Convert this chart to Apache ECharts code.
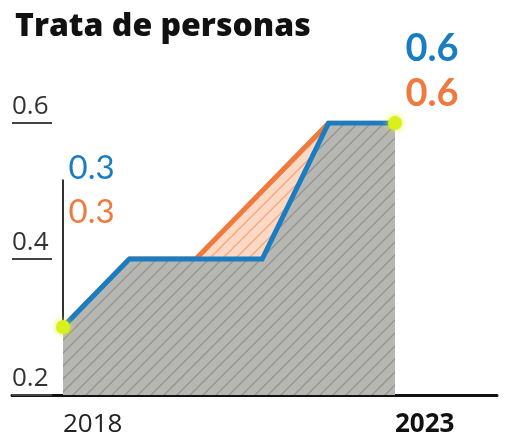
<!DOCTYPE html>
<html><head><meta charset="utf-8">
<script src="https://cdn.jsdelivr.net/npm/echarts@6/dist/echarts.min.js"></script>
<style>html,body{margin:0;padding:0;background:#fff}#c{width:506px;height:444px}</style>
</head><body><div id="c"></div>
<script>
const title = 'Trata de personas';
const years = [2018, 2019, 2020, 2021, 2022, 2023];
const blueValues = [0.3, 0.4, 0.4, 0.4, 0.6, 0.6];
const orangeValues = [0.3, 0.4, 0.4, 0.5, 0.6, 0.6];
const xTickLabels = [2018, 2023];
const boldTick = 2023;
const yTicks = [0.2, 0.4, 0.6];
const highlighted = [0, 5]; // indices of first and last points

function hatch(bg, line, size) {
  const c = document.createElement('canvas');
  c.width = size; c.height = size;
  const g = c.getContext('2d');
  g.fillStyle = bg; g.fillRect(0, 0, size, size);
  g.strokeStyle = line; g.lineWidth = 1.3;
  g.beginPath();
  for (let k = -1; k <= 1; k++) {
    g.moveTo(k * size - 1, size + 1);
    g.lineTo(k * size + size + 1, -1);
  }
  g.stroke();
  return c;
}
const grayPat = { image: hatch('#b6b6b2', '#939390', 13), repeat: 'repeat' };
const peachPat = { image: hatch('#fbd9c4', '#f2a77c', 13), repeat: 'repeat' };

const BLUE = '#1a7dc2', ORANGE = '#f07a3e', DOT = '#d8f01c';
const pair = vals => years.map((y, i) => [y, vals[i]]);
const fmt = p => p.value[1].toFixed(1);

const chart = echarts.init(document.getElementById('c'));
chart.setOption({
  animation: false,
  title: { text: title, left: 10, top: 6,
    textStyle: { fontFamily: 'Open Sans', fontWeight: 800, fontSize: 32, color: '#111' } },
  grid: { left: 12, right: 9, top: 123, bottom: 49 },
  xAxis: {
    type: 'value', min: 2017.232, max: 2024.536,
    axisLine: { show: true, lineStyle: { color: '#111', width: 3 } },
    axisTick: { show: false },
    splitLine: { show: false },
    axisLabel: {
      customValues: xTickLabels, align: 'left', margin: 17,
      fontFamily: 'Open Sans', fontSize: 26, color: '#222',
      formatter: v => (v === boldTick ? '{b|' + v + '}' : String(v)),
      rich: { b: { fontFamily: 'Open Sans', fontWeight: 'bold', fontSize: 26, color: '#111' } }
    }
  },
  yAxis: {
    type: 'value', min: 0.2, max: 0.6, interval: 0.2,
    axisLine: { show: false },
    axisTick: { show: true, inside: true, length: 40, lineStyle: { color: '#444', width: 2 } },
    splitLine: { show: false },
    axisLabel: {
      inside: true, margin: 0, align: 'left', verticalAlign: 'bottom',
      padding: [0, 0, 3, 0],
      fontFamily: 'Open Sans', fontSize: 26, color: '#333',
      formatter: v => v.toFixed(1)
    }
  },
  series: [
    { type: 'line', data: pair(orangeValues), symbol: 'none',
      lineStyle: { color: ORANGE, width: 5 },
      areaStyle: { color: peachPat, opacity: 1, origin: 'start' }, z: 2 },
    { type: 'line', data: pair(blueValues), symbol: 'none',
      lineStyle: { color: BLUE, width: 5, join: 'miter' },
      areaStyle: { color: grayPat, opacity: 1, origin: 'start' }, z: 3,
      markLine: { silent: true, symbol: 'none', label: { show: false },
        lineStyle: { color: '#333', width: 2, type: 'solid' },
        data: [[{ coord: [years[0], blueValues[0]] }, { coord: [years[0], 0.517] }]] } },
    { type: 'scatter', z: 5, symbolSize: 14,
      itemStyle: { color: DOT, opacity: 1, shadowBlur: 6, shadowColor: 'rgba(220,245,40,0.9)' },
      data: highlighted.map(i => [years[i], blueValues[i]]) },
    { type: 'scatter', z: 6, symbolSize: 1, itemStyle: { color: 'rgba(0,0,0,0)', opacity: 1 },
      label: { show: true, position: 'right', fontFamily: 'Lato', formatter: fmt },
      data: [
        { value: [years[0], blueValues[0]], label: { offset: [0, -159], color: BLUE, fontSize: 33 } },
        { value: [years[0], orangeValues[0]], label: { offset: [0, -115], color: ORANGE, fontSize: 33 } },
        { value: [years[5], blueValues[5]], label: { offset: [5, -74], color: BLUE, fontSize: 38, fontWeight: 'bold' } },
        { value: [years[5], orangeValues[5]], label: { offset: [5, -29], color: ORANGE, fontSize: 38, fontWeight: 'bold' } }
      ] }
  ]
});
</script></body></html>
